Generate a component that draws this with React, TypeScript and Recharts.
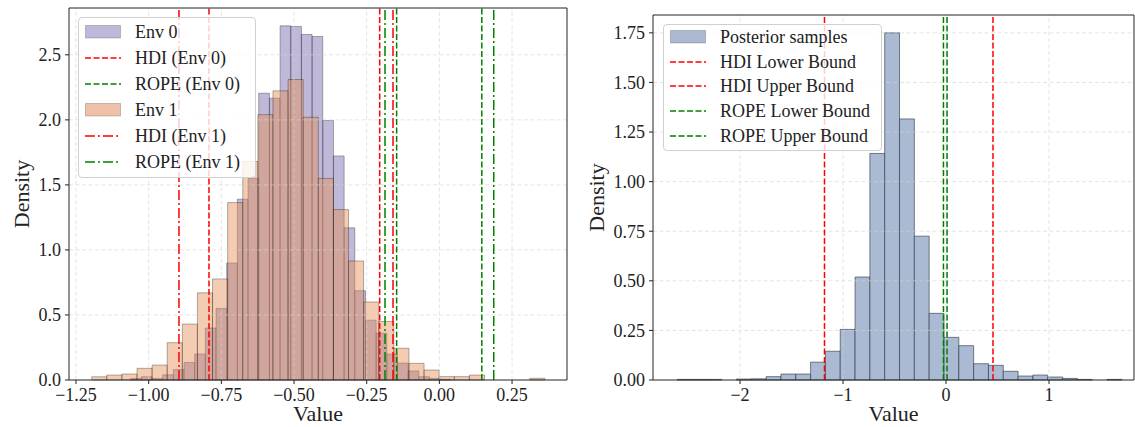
import React from 'react';
import {
  ComposedChart,
  XAxis,
  YAxis,
  Line,
  ReferenceArea,
  ReferenceLine,
} from 'recharts';

// ---- left panel: two environments, 30 bins each ----
const env0Start = -1.062;
const env0BinWidth = 0.03672;
const env0Density = [
  0.012, 0.025, 0.012, 0.04, 0.08, 0.135, 0.2, 0.4, 0.55, 0.9,
  1.39, 1.55, 2.205, 2.167, 2.723, 2.718, 2.656, 2.641, 1.995, 1.723,
  1.17, 0.687, 0.46, 0.36, 0.2, 0.13, 0.07, 0.025, 0.012, 0.005,
];

const env1Start = -1.196;
const env1BinWidth = 0.05197;
const env1Density = [
  0.025, 0.038, 0.046, 0.09, 0.115, 0.287, 0.43, 0.67, 0.777, 1.364,
  1.68, 2.04, 2.223, 2.31, 2.02, 1.55, 1.31, 0.915, 0.6, 0.45,
  0.244, 0.128, 0.077, 0.026, 0.026, 0.038, 0, 0, 0, 0.013,
];

const hdiEnv0 = [-0.7925, -0.2053];
const hdiEnv1 = [-0.8957, -0.1595];
const ropeEnv0 = [-0.147, 0.146];
const ropeEnv1 = [-0.187, 0.187];

const leftXTicks = [-1.25, -1.0, -0.75, -0.5, -0.25, 0, 0.25];
const leftYTicks = [0, 0.5, 1.0, 1.5, 2.0, 2.5];
const leftXDomain = [-1.274, 0.439];
const leftYDomain = [0, 2.86];

// ---- right panel: posterior samples ----
const postStart = -2.61;
const postBinWidth = 0.1439;
const postDensity = [
  0.003, 0.003, 0.003, 0, 0.005, 0.006, 0.017, 0.03, 0.03, 0.09,
  0.145, 0.255, 0.519, 1.142, 1.75, 1.316, 0.725, 0.336, 0.215, 0.173,
  0.082, 0.074, 0.044, 0.02, 0.025, 0.015, 0.008, 0.003, 0, 0.003,
];

const hdiBounds = [-1.18, 0.456];
const ropeBounds = [-0.025, 0.01];

const rightXTicks = [-2, -1, 0, 1];
const rightYTicks = [0, 0.25, 0.5, 0.75, 1.0, 1.25, 1.5, 1.75];
const rightXDomain = [-2.845, 1.825];
const rightYDomain = [0, 1.84];

const SERIF = "'Liberation Serif', 'DejaVu Serif', serif";
const INK = '#222';
const GRID = '#d4d4d4';
const DASHED = '6 2.5';
const DASHDOT = '10 3 2 3';

const toBins = (start: number, w: number, dens: number[]) =>
  dens.map((d, i) => ({ x0: start + i * w, x1: start + (i + 1) * w, mid: start + (i + 0.5) * w, d }));

const env0Bins = toBins(env0Start, env0BinWidth, env0Density);
const env1Bins = toBins(env1Start, env1BinWidth, env1Density);
const postBins = toBins(postStart, postBinWidth, postDensity);

const fmt = (digits: number) => (v: number) => {
  const s = Math.abs(v).toFixed(digits);
  return v < -1e-9 ? '\u2212' + s : s;
};

const tickStyle = { fontSize: 18, fill: INK, fontFamily: SERIF };

const yLabel = (cx: number) => (props: any) => {
  const vb = props.viewBox;
  const cy = vb.y + vb.height / 2;
  return (
    <text x={cx} y={cy} transform={`rotate(-90 ${cx} ${cy})`} textAnchor="middle"
      dominantBaseline="central" fontSize={22} fill={INK} fontFamily={SERIF}>
      Density
    </text>
  );
};

const xLabel = (props: any) => {
  const vb = props.viewBox;
  return (
    <text x={vb.x + vb.width / 2} y={vb.y + 41} textAnchor="middle" fontSize={22} fill={INK} fontFamily={SERIF}>
      Value
    </text>
  );
};

type LegendItem = { label: string; kind: 'patch' | 'line'; color: string; dash?: string };

function LegendBox({ left, top, width, height, rowH, padTop, items }: {
  left: number; top: number; width: number; height: number; rowH: number; padTop: number; items: LegendItem[];
}) {
  return (
    <div style={{
      position: 'absolute', left, top, width, height, boxSizing: 'border-box',
      border: '1px solid #d0d0d0', borderRadius: 4, background: 'rgba(255,255,255,0.8)',
      paddingTop: padTop, paddingLeft: 6, fontFamily: SERIF, fontSize: 18, color: INK,
    }}>
      {items.map((it) => (
        <div key={it.label} style={{ height: rowH, display: 'flex', alignItems: 'center' }}>
          <svg width={36} height={14} style={{ marginRight: 14, flex: 'none' }}>
            {it.kind === 'patch' ? (
              <rect x={0.5} y={0.5} width={35} height={12.5} fill={it.color} fillOpacity={0.5}
                stroke="#000" strokeOpacity={0.2} />
            ) : (
              <line x1={0} x2={36} y1={7} y2={7} stroke={it.color} strokeWidth={1.5} strokeDasharray={it.dash} />
            )}
          </svg>
          <span style={{ whiteSpace: 'nowrap', lineHeight: 1 }}>{it.label}</span>
        </div>
      ))}
    </div>
  );
}

const leftLegend: LegendItem[] = [
  { label: 'Env 0', kind: 'patch', color: '#8172b3' },
  { label: 'HDI (Env 0)', kind: 'line', color: '#ff0000', dash: DASHED },
  { label: 'ROPE (Env 0)', kind: 'line', color: '#008000', dash: DASHED },
  { label: 'Env 1', kind: 'patch', color: '#dd8452' },
  { label: 'HDI (Env 1)', kind: 'line', color: '#ff0000', dash: DASHDOT },
  { label: 'ROPE (Env 1)', kind: 'line', color: '#008000', dash: DASHDOT },
];

const rightLegend: LegendItem[] = [
  { label: 'Posterior samples', kind: 'patch', color: '#5874a8' },
  { label: 'HDI Lower Bound', kind: 'line', color: '#ff0000', dash: DASHED },
  { label: 'HDI Upper Bound', kind: 'line', color: '#ff0000', dash: DASHED },
  { label: 'ROPE Lower Bound', kind: 'line', color: '#008000', dash: DASHED },
  { label: 'ROPE Upper Bound', kind: 'line', color: '#008000', dash: DASHED },
];

function LeftPanel() {
  return (
    <ComposedChart width={580} height={427} data={env0Bins} margin={{ top: 8, right: 13, left: 0, bottom: 0 }}>
      <XAxis dataKey="mid" type="number" domain={leftXDomain} ticks={leftXTicks} allowDataOverflow interval={0}
        tickFormatter={fmt(2)} tick={tickStyle} tickSize={4} tickMargin={4} height={47}
        axisLine={{ stroke: INK }} tickLine={{ stroke: INK }} label={{ content: xLabel }} />
      <YAxis type="number" domain={leftYDomain} ticks={leftYTicks} allowDataOverflow interval={0}
        tickFormatter={fmt(1)} tick={tickStyle} tickSize={4} tickMargin={4} width={69}
        axisLine={{ stroke: INK }} tickLine={{ stroke: INK }} label={{ content: yLabel(21) }} />
      <Line dataKey="d" stroke="none" dot={false} activeDot={false} isAnimationActive={false} />

      {env0Bins.filter((b) => b.d > 0).map((b) => (
        <ReferenceArea key={`e0-${b.x0}`} x1={b.x0} x2={b.x1} y1={0} y2={b.d}
          fill="#8172b3" fillOpacity={0.5} stroke="#000" strokeOpacity={0.3} strokeWidth={1} />
      ))}
      {env1Bins.filter((b) => b.d > 0).map((b) => (
        <ReferenceArea key={`e1-${b.x0}`} x1={b.x0} x2={b.x1} y1={0} y2={b.d}
          fill="#e48f55" fillOpacity={0.45} stroke="#000" strokeOpacity={0.3} strokeWidth={1} />
      ))}

      {leftXTicks.map((t) => (
        <ReferenceLine key={`gx-${t}`} x={t} stroke={GRID} strokeOpacity={0.6} strokeDasharray="4 2.5" />
      ))}
      {leftYTicks.filter((t) => t > 0).map((t) => (
        <ReferenceLine key={`gy-${t}`} y={t} stroke={GRID} strokeOpacity={0.6} strokeDasharray="4 2.5" />
      ))}

      {hdiEnv0.map((v) => (
        <ReferenceLine key={`h0-${v}`} x={v} stroke="#ff0000" strokeWidth={1.5} strokeDasharray={DASHED} />
      ))}
      {ropeEnv0.map((v) => (
        <ReferenceLine key={`r0-${v}`} x={v} stroke="#008000" strokeWidth={1.5} strokeDasharray={DASHED} />
      ))}
      {hdiEnv1.map((v) => (
        <ReferenceLine key={`h1-${v}`} x={v} stroke="#ff0000" strokeWidth={1.5} strokeDasharray={DASHDOT} />
      ))}
      {ropeEnv1.map((v) => (
        <ReferenceLine key={`r1-${v}`} x={v} stroke="#008000" strokeWidth={1.5} strokeDasharray={DASHDOT} />
      ))}

      {/* top and right spines */}
      <ReferenceLine y={leftYDomain[1]} stroke={INK} ifOverflow="visible" />
      <ReferenceLine x={leftXDomain[1]} stroke={INK} ifOverflow="visible" />
    </ComposedChart>
  );
}

function RightPanel() {
  return (
    <ComposedChart width={555} height={427} data={postBins} margin={{ top: 15, right: 1, left: 0, bottom: 0 }}>
      <XAxis dataKey="mid" type="number" domain={rightXDomain} ticks={rightXTicks} allowDataOverflow interval={0}
        tickFormatter={fmt(0)} tick={tickStyle} tickSize={4} tickMargin={4} height={47}
        axisLine={{ stroke: INK }} tickLine={{ stroke: INK }} label={{ content: xLabel }} />
      <YAxis type="number" domain={rightYDomain} ticks={rightYTicks} allowDataOverflow interval={0}
        tickFormatter={fmt(2)} tick={tickStyle} tickSize={4} tickMargin={4} width={73}
        axisLine={{ stroke: INK }} tickLine={{ stroke: INK }} label={{ content: yLabel(16) }} />
      <Line dataKey="d" stroke="none" dot={false} activeDot={false} isAnimationActive={false} />

      {postBins.filter((b) => b.d > 0).map((b) => (
        <ReferenceArea key={`p-${b.x0}`} x1={b.x0} x2={b.x1} y1={0} y2={b.d}
          fill="#a9bad2" fillOpacity={1} stroke="#2a3240" strokeOpacity={0.6} strokeWidth={1} />
      ))}

      {rightXTicks.map((t) => (
        <ReferenceLine key={`gx-${t}`} x={t} stroke={GRID} strokeOpacity={0.6} strokeDasharray="4 2.5" />
      ))}
      {rightYTicks.filter((t) => t > 0).map((t) => (
        <ReferenceLine key={`gy-${t}`} y={t} stroke={GRID} strokeOpacity={0.6} strokeDasharray="4 2.5" />
      ))}

      {hdiBounds.map((v) => (
        <ReferenceLine key={`h-${v}`} x={v} stroke="#ff0000" strokeWidth={1.5} strokeDasharray={DASHED} />
      ))}
      {ropeBounds.map((v) => (
        <ReferenceLine key={`r-${v}`} x={v} stroke="#008000" strokeWidth={1.5} strokeDasharray={DASHED} />
      ))}

      <ReferenceLine y={rightYDomain[1]} stroke={INK} ifOverflow="visible" />
      <ReferenceLine x={rightXDomain[1]} stroke={INK} ifOverflow="visible" />
    </ComposedChart>
  );
}

export default function App() {
  return (
    <div style={{ position: 'absolute', left: 0, top: 0, width: 1135, height: 427, background: '#fff', overflow: 'hidden' }}>
      <div style={{ position: 'absolute', left: 0, top: 0 }}>
        <LeftPanel />
      </div>
      <div style={{ position: 'absolute', left: 580, top: 0 }}>
        <RightPanel />
      </div>
      <LegendBox left={78} top={17} width={178} height={161} rowH={26} padTop={1} items={leftLegend} />
      <LegendBox left={663} top={24} width={219} height={127} rowH={24.6} padTop={0} items={rightLegend} />
    </div>
  );
}
